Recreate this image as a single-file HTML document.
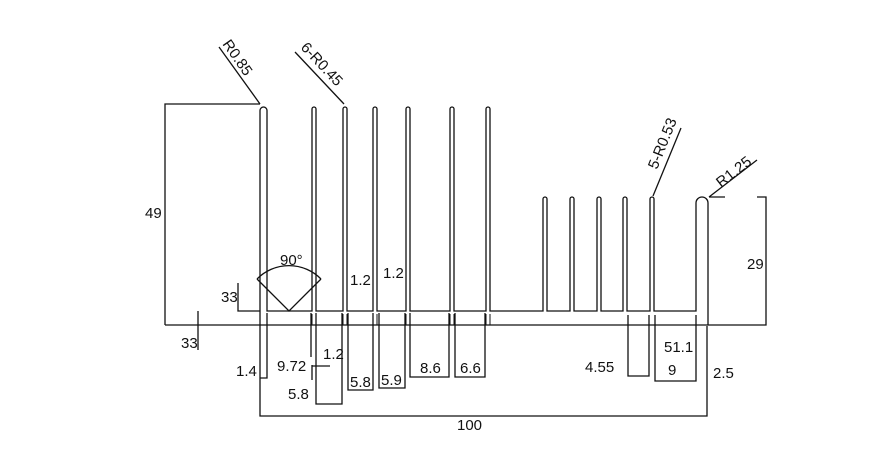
<!DOCTYPE html>
<html><head><meta charset="utf-8"><style>
html,body{margin:0;padding:0;background:#fff;width:889px;height:465px;overflow:hidden}
svg{display:block}
text{font-family:"Liberation Sans",sans-serif;font-size:15px;fill:#111}
</style></head><body>
<svg width="889" height="465" viewBox="0 0 889 465" fill="none" stroke="#111" stroke-width="1.3">
<path d="M260 325 V110.5 A3.5 3.5 0 0 1 267 110.5 V311 H312 V109 A2 2 0 0 1 316 109 V311 H343 V109 A2 2 0 0 1 347 109 V311 H373 V109 A2 2 0 0 1 377 109 V311 H406 V109 A2 2 0 0 1 410 109 V311 H450 V109 A2 2 0 0 1 454 109 V311 H486 V109 A2 2 0 0 1 490 109 V311 H543 V199 A2 2 0 0 1 547 199 V311 H570 V199 A2 2 0 0 1 574 199 V311 H597 V199 A2 2 0 0 1 601 199 V311 H623 V199 A2 2 0 0 1 627 199 V311 H650 V199 A2 2 0 0 1 654 199 V311 H696 V203 A6 6 0 0 1 708 203 V325"/>
<path d="M165 325 H766 V197 H757"/>
<path d="M165 325 V104 H260"/>
<path d="M238 283 V311 H260"/>
<path d="M198 311 V350"/>
<path d="M257 279 L289 311 L321 279"/>
<path d="M257 279 A45 45 0 0 1 321 279"/>
<path d="M260 104 L219 47"/>
<path d="M344 104 L295 52"/>
<path d="M653 196 L681 128"/>
<path d="M709 197 L757 160 M709 197 H725"/>
<path stroke-width="1" d="M312 314 V325 M316 314 V325 M343 314 V325 M347 314 V325 M373 314 V325 M377 314 V325 M406 314 V325 M410 314 V325 M450 314 V325 M454 314 V325 M486 314 V325 M490 314 V325"/>
<path d="M260 325 V416 H707 V326"/>
<path d="M267 313 V378 H260"/>
<path d="M311 313 V357 M312 365 V380 M312 366 H330"/>
<path d="M316 313 V404 H342 V313"/>
<path d="M348 313 V390 H373 V313"/>
<path d="M379 313 V388 H405 V313"/>
<path d="M410 313 V377 H449 V313"/>
<path d="M455 313 V377 H485 V313"/>
<path d="M628 315 V376 H649 V315"/>
<path d="M655 315 V381 H696 V315"/>
<g stroke="none">
<text x="145" y="218">49</text>
<text x="221" y="302">33</text>
<text x="181" y="348">33</text>
<text x="280" y="265">90°</text>
<text x="350" y="285">1.2</text>
<text x="383" y="278">1.2</text>
<text x="236" y="376">1.4</text>
<text x="277" y="371">9.72</text>
<text x="323" y="359">1.2</text>
<text x="288" y="399">5.8</text>
<text x="350" y="387">5.8</text>
<text x="381" y="385">5.9</text>
<text x="420" y="373">8.6</text>
<text x="460" y="373">6.6</text>
<text x="585" y="372">4.55</text>
<text x="664" y="352">51.1</text>
<text x="668" y="375">9</text>
<text x="713" y="378">2.5</text>
<text x="747" y="269">29</text>
<text x="457" y="430">100</text>
<text transform="translate(222,44) rotate(55)">R0.85</text>
<text transform="translate(300,48) rotate(47)">6-R0.45</text>
<text transform="translate(657,170) rotate(-68)">5-R0.53</text>
<text transform="translate(721,188) rotate(-38)">R1.25</text>
</g>
</svg>
</body></html>
